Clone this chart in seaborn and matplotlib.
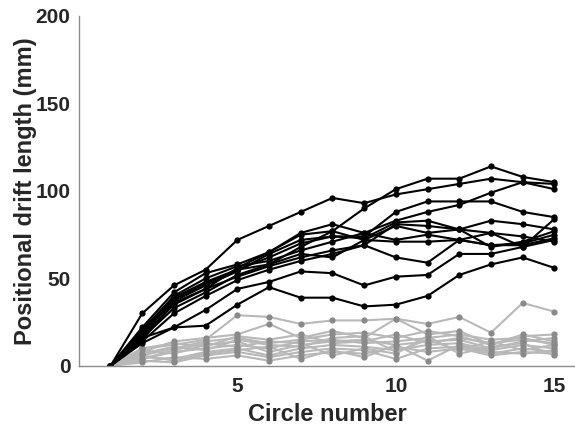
import numpy as np
import pandas as pd
import seaborn as sns
from matplotlib import pyplot as plt

# circle index on the x axis
circles = list(range(1, 16))

# drift per circle (mm), runs that drift far (black)
drift_black = [
    [0, 30, 46, 55, 72, 80, 88, 96, 93, 98, 101, 104, 107, 105, 101],
    [0, 22, 42, 53, 58, 65, 75, 77, 90, 101, 107, 107, 114, 108, 105],
    [0, 20, 40, 50, 57, 60, 66, 71, 76, 83, 88, 92, 99, 105, 104],
    [0, 19, 38, 47, 55, 62, 70, 74, 74, 88, 94, 94, 94, 88, 85],
    [0, 18, 37, 46, 54, 64, 72, 74, 73, 82, 83, 78, 83, 81, 78],
    [0, 17, 35, 44, 56, 65, 76, 81, 76, 72, 75, 72, 76, 74, 71],
    [0, 16, 33, 42, 52, 58, 68, 77, 72, 71, 71, 72, 69, 69, 73],
    [0, 15, 36, 44, 51, 57, 62, 66, 69, 81, 80, 78, 76, 68, 84],
    [0, 14, 30, 40, 49, 55, 60, 64, 69, 62, 59, 72, 69, 70, 75],
    [0, 21, 39, 48, 55, 58, 64, 62, 72, 80, 76, 78, 68, 71, 77],
    [0, 16, 22, 32, 44, 48, 54, 53, 46, 51, 52, 64, 64, 68, 72],
    [0, 13, 22, 23, 35, 45, 39, 39, 34, 35, 40, 52, 58, 62, 56],
]

# runs that stay close (grey)
drift_grey = [
    [0, 10, 12, 15, 29, 28, 24, 26, 26, 27, 24, 28, 19, 36, 31],
    [0, 8, 14, 16, 18, 24, 16, 20, 16, 27, 18, 20, 12, 17, 18],
    [0, 6, 10, 14, 16, 13, 15, 18, 19, 16, 20, 17, 12, 18, 14],
    [0, 4, 8, 10, 12, 10, 14, 15, 13, 14, 16, 18, 15, 16, 12],
    [0, 9, 7, 12, 14, 8, 12, 14, 15, 12, 14, 15, 10, 14, 16],
    [0, 5, 4, 8, 10, 6, 10, 12, 11, 9, 12, 13, 9, 12, 10],
    [0, 3, 2, 6, 8, 5, 8, 10, 9, 4, 10, 11, 7, 10, 8],
    [0, 7, 11, 9, 15, 12, 11, 16, 17, 8, 15, 9, 14, 9, 12],
    [0, 2, 5, 4, 6, 3, 6, 8, 7, 11, 8, 10, 6, 8, 7],
    [0, 10, 13, 11, 17, 15, 18, 13, 14, 18, 13, 16, 13, 15, 13],
    [0, 6, 3, 7, 9, 11, 4, 9, 5, 12, 3, 12, 8, 7, 9],
    [0, 4, 9, 13, 11, 14, 13, 6, 10, 7, 17, 7, 11, 13, 6],
]


def to_long(series):
    rows = []
    for run, vals in enumerate(series):
        for c, v in zip(circles, vals):
            rows.append({'circle': c, 'drift': v, 'run': run})
    return pd.DataFrame(rows)


df_black = to_long(drift_black)
df_grey = to_long(drift_grey)

sns.set_style('white')
plt.rcParams['font.family'] = ['Liberation Sans', 'DejaVu Sans']

fig = plt.figure(figsize=(5.75, 4.26), dpi=100)
ax = fig.add_axes([0.137, 0.141, 0.863, 0.8216])

sns.lineplot(data=df_grey, x='circle', y='drift', units='run', estimator=None,
             color='#b8b8b8', lw=1.5, marker='o', markersize=4.5,
             markerfacecolor='#8a8a8a', markeredgecolor='#8a8a8a',
             markeredgewidth=0, ax=ax)
sns.lineplot(data=df_black, x='circle', y='drift', units='run', estimator=None,
             color='black', lw=1.5, marker='o', markersize=4.5,
             markerfacecolor='black', markeredgecolor='black',
             markeredgewidth=0, ax=ax)

ax.set_xlim(0, 15.65)
ax.set_ylim(0, 200)
ax.set_xticks([5, 10, 15])
ax.set_yticks([0, 50, 100, 150, 200])

sns.despine(ax=ax)
for s in ['left', 'bottom']:
    ax.spines[s].set_color('#8c8c8c')
    ax.spines[s].set_linewidth(1.0)

ax.tick_params(direction='in', length=4, width=0.8, color='#8c8c8c',
               labelsize=15, labelcolor='#262626')
ax.tick_params(axis='y', pad=6)
ax.tick_params(axis='x', pad=8)
for lab in ax.get_xticklabels() + ax.get_yticklabels():
    lab.set_fontweight('bold')

ax.set_xlabel('Circle number', fontsize=17, fontweight='bold', color='#262626', labelpad=5)
ax.set_ylabel('Positional drift length (mm)', fontsize=17, fontweight='bold', color='#262626', labelpad=-1)

fig.savefig('out.png', dpi=100)
